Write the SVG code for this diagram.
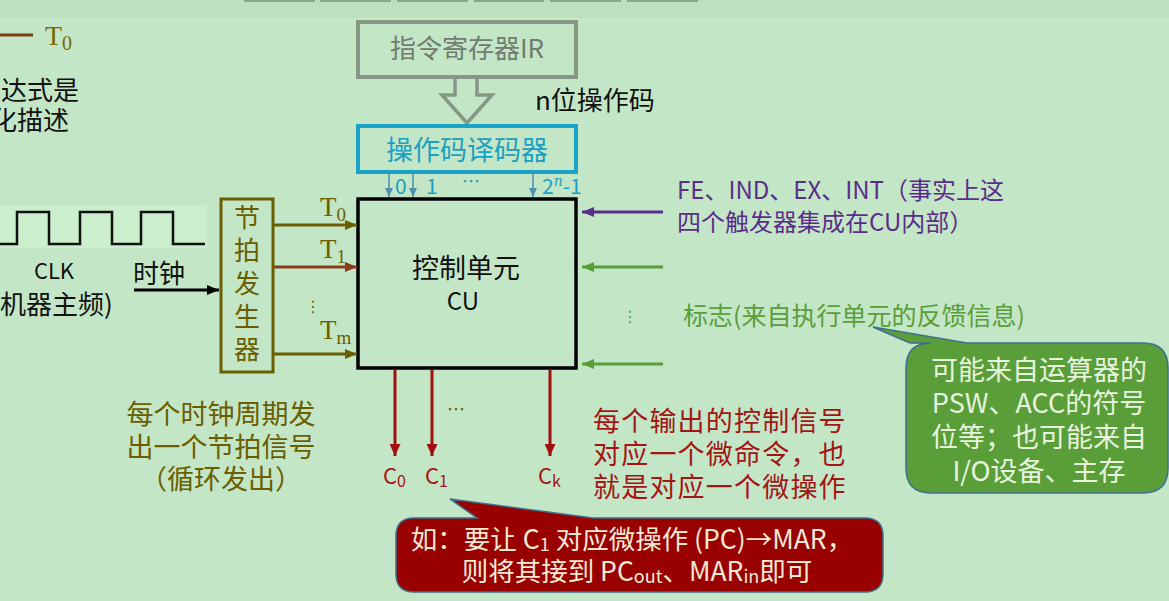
<svg xmlns="http://www.w3.org/2000/svg" width="1169" height="601" viewBox="0 0 1169 601">
<defs>
<style>
.cjk{font-family:"Noto Sans CJK SC","Noto Sans",sans-serif}
.tm{font-family:"Liberation Serif","DejaVu Serif",serif}
.olive{fill:#6b5e00}
.red{fill:#a31515}
</style>
<marker id="ahOlive" markerWidth="12" markerHeight="10" refX="12" refY="5" orient="auto" markerUnits="userSpaceOnUse"><path d="M0,0 L12,5 L0,10 z" fill="#6b5e00"/></marker>
<marker id="ahBrown" markerWidth="12" markerHeight="10" refX="12" refY="5" orient="auto" markerUnits="userSpaceOnUse"><path d="M0,0 L12,5 L0,10 z" fill="#8a3b1c"/></marker>
<marker id="ahBlack" markerWidth="12" markerHeight="10" refX="12" refY="5" orient="auto" markerUnits="userSpaceOnUse"><path d="M0,0 L12,5 L0,10 z" fill="#000"/></marker>
<marker id="ahPurple" markerWidth="12" markerHeight="10" refX="12" refY="5" orient="auto" markerUnits="userSpaceOnUse"><path d="M0,0 L12,5 L0,10 z" fill="#5b2d8a"/></marker>
<marker id="ahGreen" markerWidth="12" markerHeight="10" refX="12" refY="5" orient="auto" markerUnits="userSpaceOnUse"><path d="M0,0 L12,5 L0,10 z" fill="#5a9e3a"/></marker>
<marker id="ahRed" markerWidth="12" markerHeight="11" refX="12" refY="5.5" orient="auto" markerUnits="userSpaceOnUse"><path d="M0,0 L12,5.5 L0,11 z" fill="#a01010"/></marker>
<marker id="ahBlue" markerWidth="9" markerHeight="8" refX="9" refY="4" orient="auto" markerUnits="userSpaceOnUse"><path d="M0,0 L9,4 L0,8 z" fill="#4f8fb0"/></marker>
</defs>
<rect x="0" y="0" width="1169" height="601" fill="#c3e6c6"/>
<rect x="0" y="0" width="1169" height="18" fill="#bde0c0"/>

<!-- partial boxes at top edge -->
<g id="top-strip" fill="none" stroke="#8aa58c" stroke-width="2">
<rect x="245" y="-10" width="69" height="11"/>
<rect x="321" y="-10" width="69" height="11"/>
<rect x="398" y="-10" width="69" height="11"/>
<rect x="475" y="-10" width="68" height="11"/>
<rect x="551" y="-10" width="69" height="11"/>
<rect x="628" y="-10" width="69" height="11"/>
</g>

<!-- top-left remnants -->
<g id="topleft">
<line x1="0" y1="35" x2="33" y2="35" stroke="#7a3e10" stroke-width="3"/>
<text x="45" y="45" class="tm" font-size="28" fill="#7a6a00">T<tspan font-size="20" dy="5">0</tspan></text>
<text x="1" y="100" class="cjk" font-size="26" fill="#111">达式是</text>
<text x="-9" y="130" class="cjk" font-size="26" fill="#111">化描述</text>
</g>

<!-- IR -->
<g id="ir">
<rect x="358" y="22" width="218" height="55" fill="none" stroke="#859885" stroke-width="4"/>
<text x="467" y="58" class="cjk" font-size="26" fill="#6f7c6f" text-anchor="middle">指令寄存器IR</text>
</g>
<path id="hollow-arrow" d="M455,79 L455,95 L442,95 L467,123 L492,95 L477,95 L477,79" fill="#c3e6c6" stroke="#859885" stroke-width="3.5" stroke-linejoin="miter"/>
<text x="535" y="110" class="cjk" font-size="26" fill="#111">n位操作码</text>

<!-- decoder -->
<g id="decoder">
<rect x="358" y="126" width="218" height="46" fill="none" stroke="#1aa3c6" stroke-width="4"/>
<text x="467" y="160" class="cjk" font-size="27" fill="#1aa0c2" text-anchor="middle">操作码译码器</text>
</g>

<!-- clock -->
<g id="clock">
<rect x="0" y="205" width="207" height="43" fill="#cbeecd"/>
<polyline points="0,244 17,244 17,212 49,212 49,244 80,244 80,212 112,212 112,244 141,244 141,212 173,212 173,244 205,244" fill="none" stroke="#111" stroke-width="2.5"/>
<text x="54" y="279" class="cjk" font-size="22" fill="#111" text-anchor="middle">CLK</text>
<text x="0" y="314" class="cjk" font-size="26" fill="#111">机器主频)</text>
<text x="133" y="283" class="cjk" font-size="26" fill="#111">时钟</text>
</g>

<!-- beat generator -->
<g id="beat-gen">
<rect x="221" y="199" width="52" height="173" fill="none" stroke="#6b5e00" stroke-width="3"/>
<g class="cjk olive" font-size="26" text-anchor="middle">
<text x="247" y="227">节</text>
<text x="247" y="260">拍</text>
<text x="247" y="293">发</text>
<text x="247" y="326">生</text>
<text x="247" y="359">器</text>
</g>
</g>

<!-- CU -->
<g id="cu">
<rect x="358" y="199" width="218" height="169" fill="none" stroke="#000" stroke-width="3.5"/>
<text x="466" y="278" class="cjk" font-size="27" fill="#111" text-anchor="middle">控制单元</text>
<text x="463" y="310" class="cjk" font-size="24" fill="#111" text-anchor="middle">CU</text>
</g>

<!-- connectors -->
<g id="connectors" fill="none">
<line x1="134" y1="290" x2="219" y2="290" stroke="#000" stroke-width="3" marker-end="url(#ahBlack)"/>
<line x1="274" y1="225" x2="357" y2="225" stroke="#6b5e00" stroke-width="3" marker-end="url(#ahOlive)"/>
<line x1="274" y1="267" x2="357" y2="267" stroke="#8a3b1c" stroke-width="3" marker-end="url(#ahBrown)"/>
<line x1="274" y1="354" x2="357" y2="354" stroke="#6b5e00" stroke-width="3" marker-end="url(#ahOlive)"/>
<line x1="389" y1="172" x2="389" y2="197" stroke="#4f8fb0" stroke-width="1.5" marker-end="url(#ahBlue)"/>
<line x1="413" y1="172" x2="413" y2="197" stroke="#4f8fb0" stroke-width="1.5" marker-end="url(#ahBlue)"/>
<line x1="533" y1="172" x2="533" y2="197" stroke="#4f8fb0" stroke-width="1.5" marker-end="url(#ahBlue)"/>
<line x1="663" y1="212" x2="582" y2="212" stroke="#5b2d8a" stroke-width="3" marker-end="url(#ahPurple)"/>
<line x1="663" y1="267" x2="582" y2="267" stroke="#5a9e3a" stroke-width="3" marker-end="url(#ahGreen)"/>
<line x1="663" y1="364" x2="582" y2="364" stroke="#5a9e3a" stroke-width="3" marker-end="url(#ahGreen)"/>
<line x1="395" y1="370" x2="395" y2="456" stroke="#a01010" stroke-width="3" marker-end="url(#ahRed)"/>
<line x1="432" y1="370" x2="432" y2="456" stroke="#a01010" stroke-width="3" marker-end="url(#ahRed)"/>
<line x1="550" y1="370" x2="550" y2="456" stroke="#a01010" stroke-width="3" marker-end="url(#ahRed)"/>
</g>

<!-- labels -->
<g id="t-labels" class="tm olive" font-size="27">
<text x="320" y="216">T<tspan font-size="19" dy="5">0</tspan></text>
<text x="320" y="258">T<tspan font-size="19" dy="5">1</tspan></text>
<text x="320" y="339">T<tspan font-size="19" dy="5">m</tspan></text>
</g>
<text x="313" y="312" font-family="DejaVu Sans" font-size="16" fill="#6b5e00" text-anchor="middle">⋮</text>

<g id="decoder-labels" class="cjk" font-size="21" fill="#1aa0c2">
<text x="395" y="194">0</text>
<text x="426" y="194">1</text>
<text x="462" y="188" font-size="18">…</text>
<text x="542" y="194">2<tspan font-family="DejaVu Serif" font-style="italic" font-size="14" dy="-8">n</tspan><tspan dy="8">-1</tspan></text>
</g>

<g id="flags-text" class="cjk" font-size="24">
<text x="677" y="199" fill="#5b2d8a">FE、IND、EX、INT（事实上这</text>
<text x="677" y="231" fill="#5b2d8a">四个触发器集成在CU内部）</text>
<text x="683" y="325" fill="#5a9e3a" font-size="25">标志(来自执行单元的反馈信息)</text>
</g>
<text x="630" y="322" font-family="DejaVu Sans" font-size="16" fill="#5a9e3a" text-anchor="middle">⋮</text>

<g id="c-labels" class="cjk red" font-size="22">
<text x="383" y="484">C<tspan font-size="16" dy="3">0</tspan></text>
<text x="425" y="484">C<tspan font-size="16" dy="3">1</tspan></text>
<text x="538" y="484">C<tspan font-size="16" dy="3">k</tspan></text>
</g>
<text x="456" y="416" class="cjk" font-size="18" fill="#6b5e00" text-anchor="middle">…</text>

<g id="beat-note" class="cjk olive" font-size="27" text-anchor="middle">
<text x="221" y="424">每个时钟周期发</text>
<text x="221" y="457">出一个节拍信号</text>
<text x="221" y="489">（循环发出）</text>
</g>

<g id="signal-note" class="cjk red" font-size="27" letter-spacing="1.2">
<text x="593" y="431">每个输出的控制信号</text>
<text x="593" y="464">对应一个微命令，也</text>
<text x="593" y="497">就是对应一个微操作</text>
</g>

<!-- green callout -->
<g id="flag-callout">
<path d="M931,343 L910,343 L873,327 L967,343 L1143,343 Q1168,343 1168,368 L1168,468 Q1168,493 1143,493 L931,493 Q906,493 906,468 L906,368 Q906,343 931,343 Z" fill="#5a9e3a" stroke="#3f6f8f" stroke-width="1.5"/>
<g class="cjk" font-size="27" fill="#e8f4de" text-anchor="middle">
<text x="1039" y="380">可能来自运算器的</text>
<text x="1039" y="413">PSW、ACC的符号</text>
<text x="1039" y="447">位等；也可能来自</text>
<text x="1039" y="481">I/O设备、主存</text>
</g>
</g>

<!-- red callout -->
<g id="example-callout">
<path d="M414,518 L477,518 L450,499 L593,518 L865,518 Q883,518 883,536 L883,574 Q883,592 865,592 L414,592 Q396,592 396,574 L396,536 Q396,518 414,518 Z" fill="#990000" stroke="#3f6f8f" stroke-width="1.5"/>
<g class="cjk" font-size="26.5" fill="#f2ead6" text-anchor="middle">
<text x="632" y="549">如：要让 C<tspan font-size="18" dy="2">1</tspan><tspan dy="-2"> 对应微操作 (PC)→MAR，</tspan></text>
<text x="637" y="581">则将其接到 PC<tspan font-size="18" dy="2">out</tspan><tspan dy="-2">、MAR</tspan><tspan font-size="18" dy="2">in</tspan><tspan dy="-2">即可</tspan></text>
</g>
</g>
</svg>
